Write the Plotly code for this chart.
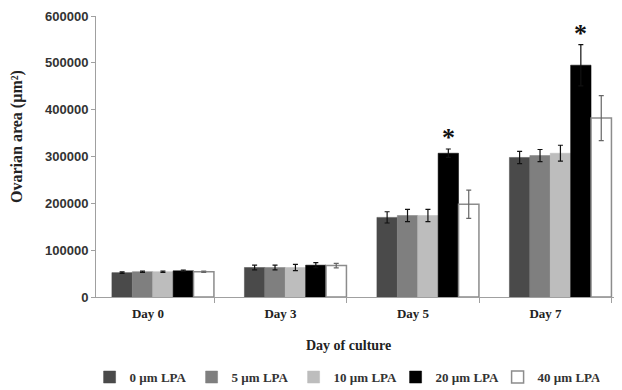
import plotly.graph_objects as go

days = ["Day 0", "Day 3", "Day 5", "Day 7"]
groups = ["0 µm LPA", "5 µm LPA", "10 µm LPA", "20 µm LPA", "40 µm LPA"]

area_0 = [52000, 63000, 170000, 298000]
area_5 = [54000, 63000, 174000, 302000]
area_10 = [54000, 63000, 174000, 307000]
area_20 = [56000, 68000, 307000, 495000]
area_40 = [54000, 67000, 198000, 382000]

err_0 = [1500, 5000, 12000, 13000]
err_5 = [1500, 5000, 13000, 13000]
err_10 = [1500, 6500, 13000, 17000]
err_20 = [1500, 5500, 9000, 44000]
err_40 = [1500, 5000, 30000, 48000]

star_days = ["Day 5", "Day 7"]
star_group = "20 µm LPA"

values = [area_0, area_5, area_10, area_20, area_40]
errors = [err_0, err_5, err_10, err_20, err_40]

fills = ["#4a4a4a", "#7f7f7f", "#bdbdbd", "#000000", "#ffffff"]
outlines = ["#4a4a4a", "#7f7f7f", "#bdbdbd", "#000000", "#8c8c8c"]
errcols = ["#111111", "#111111", "#111111", "#111111", "#666666"]

BAR_W = 0.154
START = -0.272

SERIF = "Liberation Serif, Times New Roman, serif"
SANS = "Liberation Sans, Arial, sans-serif"

fig = go.Figure()
for k, g in enumerate(groups):
    fig.add_trace(go.Bar(
        x=days, y=values[k], name=g,
        width=BAR_W, offset=START + k * BAR_W,
        marker=dict(color=fills[k], line=dict(color=outlines[k], width=1.5 if k == 4 else 0.5)),
        error_y=dict(type="data", array=errors[k], color=errcols[k], thickness=1.2, width=2.5),
    ))

annotations = []
gi = groups.index(star_group)
for d in star_days:
    di = days.index(d)
    annotations.append(dict(
        x=di + START + gi * BAR_W + BAR_W / 2, xref="x",
        y=values[gi][di] + errors[gi][di], yref="y",
        text="<b>*</b>", showarrow=False, yanchor="bottom", yshift=-5,
        font=dict(family=SERIF, size=26, color="#111111"),
    ))

annotations.append(dict(
    x=0.472, xref="paper", y=-0.171, yref="paper", text="<b>Day of culture</b>",
    showarrow=False, xanchor="center", yanchor="middle",
    font=dict(family=SERIF, size=14, color="#222222"),
))
annotations.append(dict(
    x=-0.148, xref="paper", y=0.573, yref="paper", text="<b>Ovarian area (µm²)</b>",
    showarrow=False, textangle=-90, xanchor="center", yanchor="middle",
    font=dict(family=SERIF, size=16, color="#222222"),
))

fig.update_layout(
    width=622, height=390, autosize=False,
    margin=dict(l=88, r=0, t=8, b=101, pad=0),
    paper_bgcolor="white", plot_bgcolor="white",
    barmode="group",
    showlegend=True,
    legend=dict(orientation="h", x=-0.012, xanchor="left", y=-0.285, yanchor="middle",
                entrywidth=57, entrywidthmode="pixels",
                font=dict(family=SERIF, size=13, color="#333333", weight="bold"),
                traceorder="normal"),
    annotations=annotations,
    xaxis=dict(type="category", categoryorder="array", categoryarray=days,
               range=[-0.392, 3.638], showline=True, linecolor="#a0a0a0", linewidth=1,
               ticks="outside", tickson="boundaries", ticklen=5, tickcolor="#a0a0a0",
               ticklabelstandoff=4,
               tickfont=dict(family=SERIF, size=13, color="#222222", weight="bold"),
               showgrid=False, zeroline=False),
    yaxis=dict(range=[0, 600000], dtick=100000, tickformat="d",
               showline=True, linecolor="#a0a0a0", linewidth=1,
               ticks="outside", ticklen=4, tickcolor="#a0a0a0",
               tickfont=dict(family=SANS, size=13, color="#333333", weight="bold"),
               showgrid=False, zeroline=False),
)

fig.write_html("out.html")
